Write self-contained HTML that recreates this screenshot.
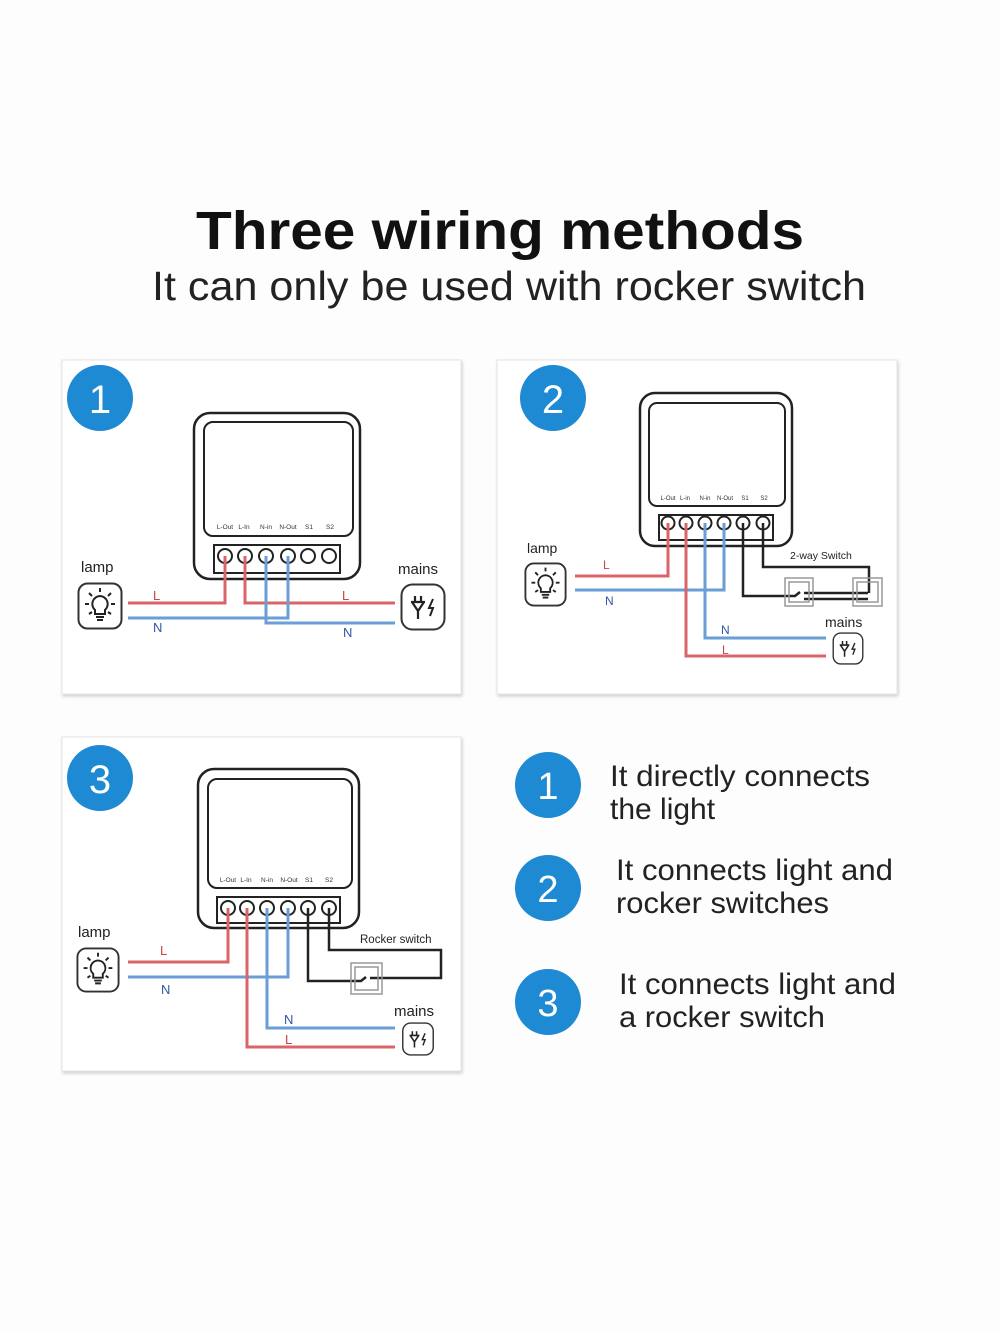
<!DOCTYPE html>
<html><head><meta charset="utf-8"><style>
html,body{margin:0;padding:0;background:#fdfdfd;}
svg{display:block}
text{font-family:"Liberation Sans",sans-serif;}
</style></head><body>
<svg width="1000" height="1333" viewBox="0 0 1000 1333" xmlns="http://www.w3.org/2000/svg">
<defs>
<filter id="sh" x="-5%" y="-5%" width="110%" height="110%"><feDropShadow dx="1" dy="2" stdDeviation="1.5" flood-color="#000" flood-opacity="0.18"/></filter>
<symbol id="lamp" viewBox="0 0 46 48">
<rect x="1.5" y="1.5" width="43" height="45" rx="9" fill="#fff" stroke="#333" stroke-width="2"/>
<path d="M23 14 a8 8 0 0 1 5 14 v4 h-10 v-4 a8 8 0 0 1 5 -14z" fill="none" stroke="#222" stroke-width="2"/>
<path d="M19 35 h8 M20 38 h6" stroke="#222" stroke-width="2"/>
<path d="M23 6 v4 M12 11 l3 3 M34 11 l-3 3 M8 22 h4 M34 22 h4 M12 32 l3 -2 M34 32 l-3 -2" stroke="#222" stroke-width="2"/>
</symbol>
<symbol id="mains" viewBox="0 0 46 48">
<rect x="1.5" y="1.5" width="43" height="45" rx="11" fill="#fff" stroke="#333" stroke-width="2"/>
<path d="M15 13 v6 M21 13 v6 M11 19 h14 M12 19 l6 9 l6 -9 M18 28 v8" fill="none" stroke="#222" stroke-width="2.2"/>
<path d="M33 16 l-4 9 h4 l-3 8" fill="none" stroke="#222" stroke-width="2"/>
</symbol>
</defs>

<text x="500" y="249" text-anchor="middle" font-size="54" font-weight="bold" fill="#111" textLength="608" lengthAdjust="spacingAndGlyphs">Three  wiring methods</text>
<text x="509" y="300" text-anchor="middle" font-size="41" fill="#222" textLength="714" lengthAdjust="spacingAndGlyphs">It can only  be used with rocker switch</text>

<!-- Panel 1 -->
<rect x="62" y="360" width="399" height="334" fill="#fff" stroke="#e4e4e4" filter="url(#sh)"/>
<circle cx="100" cy="398" r="33" fill="#1e8ad3"/>
<text x="100" y="413" text-anchor="middle" font-size="40" fill="#fff">1</text>
<rect x="194" y="413" width="166" height="166" rx="16" fill="#fff" stroke="#222" stroke-width="2.5"/>
<rect x="204" y="422" width="149" height="114" rx="9" fill="#fff" stroke="#222" stroke-width="2"/>
<g font-size="6.5" fill="#333" text-anchor="middle"><text x="225" y="529">L-Out</text><text x="244" y="529">L-In</text><text x="266" y="529">N-in</text><text x="288" y="529">N-Out</text><text x="309" y="529">S1</text><text x="330" y="529">S2</text></g>
<rect x="214" y="545" width="126" height="28" fill="#fff" stroke="#222" stroke-width="2"/>
<g fill="#fff" stroke="#222" stroke-width="2"><circle cx="225" cy="556" r="7"/><circle cx="245" cy="556" r="7"/><circle cx="266" cy="556" r="7"/><circle cx="288" cy="556" r="7"/><circle cx="308" cy="556" r="7"/><circle cx="329" cy="556" r="7"/></g>
<g fill="none" stroke-width="3">
<path d="M128 603 H225 V556" stroke="#d9646a"/>
<path d="M245 556 V603 H395" stroke="#d9646a"/>
<path d="M128 618 H288 V556" stroke="#6a9ed6"/>
<path d="M266 556 V623 H395" stroke="#6a9ed6"/>
</g>
<use href="#lamp" x="77" y="582" width="46" height="48"/>
<use href="#mains" x="400" y="583" width="46" height="48"/>
<text x="81" y="572" font-size="15" fill="#222">lamp</text>
<text x="398" y="574" font-size="15" fill="#222">mains</text>
<g font-size="13" fill="#333"><text x="153" y="600" fill="#c44">L</text><text x="153" y="632" fill="#35a">N</text><text x="342" y="600" fill="#c44">L</text><text x="343" y="637" fill="#35a">N</text></g>

<!-- Panel 2 -->
<rect x="497" y="360" width="400" height="334" fill="#fff" stroke="#e4e4e4" filter="url(#sh)"/>
<circle cx="553" cy="398" r="33" fill="#1e8ad3"/>
<text x="553" y="413" text-anchor="middle" font-size="40" fill="#fff">2</text>
<rect x="640" y="393" width="152" height="153" rx="15" fill="#fff" stroke="#222" stroke-width="2.5"/>
<rect x="649" y="403" width="136" height="103" rx="8" fill="#fff" stroke="#222" stroke-width="2"/>
<g font-size="6" fill="#333" text-anchor="middle"><text x="668" y="500">L-Out</text><text x="685" y="500">L-in</text><text x="705" y="500">N-in</text><text x="725" y="500">N-Out</text><text x="745" y="500">S1</text><text x="764" y="500">S2</text></g>
<rect x="659" y="515" width="114" height="25" fill="#fff" stroke="#222" stroke-width="2"/>
<g fill="#fff" stroke="#222" stroke-width="2"><circle cx="668" cy="523" r="6.5"/><circle cx="686" cy="523" r="6.5"/><circle cx="705" cy="523" r="6.5"/><circle cx="724" cy="523" r="6.5"/><circle cx="743" cy="523" r="6.5"/><circle cx="763" cy="523" r="6.5"/></g>
<g fill="none" stroke-width="3">
<path d="M575 576 H668 V523" stroke="#d9646a"/>
<path d="M575 590 H724 V523" stroke="#6a9ed6"/>
<path d="M686 523 V656 H826" stroke="#d9646a"/>
<path d="M705 523 V638 H826" stroke="#6a9ed6"/>
</g>
<g fill="none" stroke="#222" stroke-width="2.5">
<path d="M763 523 V567 H869 V593"/>
<path d="M743 523 V596 H795 l5 -4"/>
<path d="M804 593 H868 M804 599 H868"/>
</g>
<g fill="none" stroke="#999" stroke-width="1.5"><rect x="785" y="578" width="28" height="28"/><rect x="789" y="582" width="20" height="20"/><rect x="853" y="578" width="29" height="28"/><rect x="857" y="582" width="21" height="20"/></g>
<use href="#lamp" x="524" y="562" width="43" height="45"/>
<use href="#mains" x="830" y="632" width="36" height="33"/>
<text x="527" y="553" font-size="14" fill="#222">lamp</text>
<text x="825" y="627" font-size="14" fill="#222">mains</text>
<text x="790" y="559" font-size="10.5" fill="#222">2-way Switch</text>
<g font-size="12"><text x="603" y="569" fill="#c44">L</text><text x="605" y="605" fill="#35a">N</text><text x="721" y="634" fill="#35a">N</text><text x="722" y="654" fill="#c44">L</text></g>

<!-- Panel 3 -->
<rect x="62" y="737" width="399" height="334" fill="#fff" stroke="#e4e4e4" filter="url(#sh)"/>
<circle cx="100" cy="778" r="33" fill="#1e8ad3"/>
<text x="100" y="793" text-anchor="middle" font-size="40" fill="#fff">3</text>
<rect x="198" y="769" width="161" height="159" rx="16" fill="#fff" stroke="#222" stroke-width="2.5"/>
<rect x="208" y="779" width="144" height="109" rx="9" fill="#fff" stroke="#222" stroke-width="2"/>
<g font-size="6.5" fill="#333" text-anchor="middle"><text x="228" y="882">L-Out</text><text x="246" y="882">L-In</text><text x="267" y="882">N-in</text><text x="289" y="882">N-Out</text><text x="309" y="882">S1</text><text x="329" y="882">S2</text></g>
<rect x="217" y="897" width="123" height="26" fill="#fff" stroke="#222" stroke-width="2"/>
<g fill="#fff" stroke="#222" stroke-width="2"><circle cx="228" cy="908" r="7"/><circle cx="247" cy="908" r="7"/><circle cx="267" cy="908" r="7"/><circle cx="288" cy="908" r="7"/><circle cx="308" cy="908" r="7"/><circle cx="329" cy="908" r="7"/></g>
<g fill="none" stroke-width="3">
<path d="M128 962 H228 V908" stroke="#d9646a"/>
<path d="M128 977 H288 V908" stroke="#6a9ed6"/>
<path d="M247 908 V1047 H395" stroke="#d9646a"/>
<path d="M267 908 V1028 H395" stroke="#6a9ed6"/>
</g>
<g fill="none" stroke="#222" stroke-width="2.5">
<path d="M308 908 V981 H361 l5 -4"/>
<path d="M370 978 H441 V950 H329 V908"/>
</g>
<g fill="none" stroke="#999" stroke-width="1.5"><rect x="351" y="963" width="31" height="31"/><rect x="355" y="967" width="23" height="23"/></g>
<use href="#lamp" x="76" y="946" width="44" height="48"/>
<use href="#mains" x="400" y="1022" width="36" height="34"/>
<text x="78" y="937" font-size="15" fill="#222">lamp</text>
<text x="394" y="1016" font-size="15" fill="#222">mains</text>
<text x="360" y="943" font-size="11.5" fill="#222">Rocker switch</text>
<g font-size="13"><text x="160" y="955" fill="#c44">L</text><text x="161" y="994" fill="#35a">N</text><text x="284" y="1024" fill="#35a">N</text><text x="285" y="1044" fill="#c44">L</text></g>

<!-- legend -->
<g fill="#1e8ad3"><circle cx="548" cy="785" r="33"/><circle cx="548" cy="888" r="33"/><circle cx="548" cy="1002" r="33"/></g>
<g font-size="38" fill="#fff" text-anchor="middle"><text x="548" y="799">1</text><text x="548" y="902">2</text><text x="548" y="1016">3</text></g>
<g font-size="30" fill="#222">
<text x="610" y="786" textLength="260" lengthAdjust="spacingAndGlyphs">It directly connects</text>
<text x="610" y="819">the light</text>
<text x="616" y="880" textLength="277" lengthAdjust="spacingAndGlyphs">It connects light and</text>
<text x="616" y="913" textLength="213" lengthAdjust="spacingAndGlyphs">rocker switches</text>
<text x="619" y="994" textLength="277" lengthAdjust="spacingAndGlyphs">It connects light and</text>
<text x="619" y="1027" textLength="206" lengthAdjust="spacingAndGlyphs">a rocker switch</text>
</g>
</svg>
</body></html>
